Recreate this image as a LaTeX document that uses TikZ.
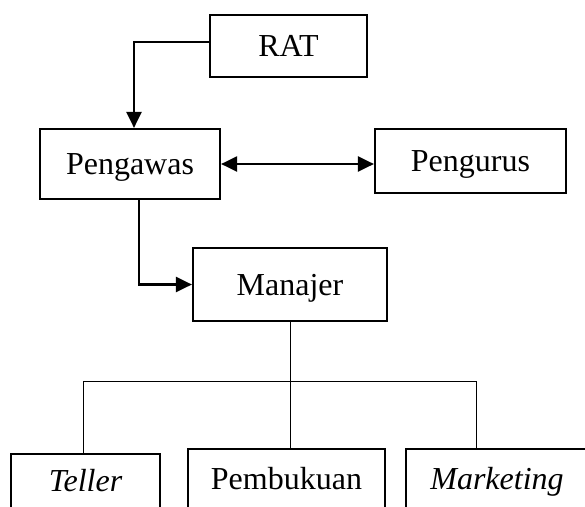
\documentclass[tikz,border=0pt]{standalone}
\usepackage{fontspec}
\setmainfont{Liberation Serif}
\usetikzlibrary{arrows.meta}
\begin{document}
\begin{tikzpicture}[x=1pt,y=-1pt,
  box/.style={draw,line width=2.2pt,inner sep=0pt,font=\fontsize{32}{38}\selectfont,text height=22pt,text depth=1pt},
  arr/.style={line width=2.2pt,-{Triangle[length=16pt,width=15pt]}},
  darr/.style={line width=2.2pt,{Triangle[length=16pt,width=15pt]}-{Triangle[length=16pt,width=15pt]}},
  thinline/.style={line width=1pt}]
\useasboundingbox (0,0) rectangle (585,506);
\clip (0,0) rectangle (585,506);
\node[box,minimum width=157pt,minimum height=62pt] (rat) at (288.5,46) {RAT};
\node[box,minimum width=180pt,minimum height=70pt] (pengawas) at (130,164) {Pengawas};
\node[box,minimum width=191pt,minimum height=64pt] (pengurus) at (470.5,161) {Pengurus};
\node[box,minimum width=194pt,minimum height=73pt] (manajer) at (290,284.5) {Manajer};
\node[box,minimum width=149pt,minimum height=54pt] (teller) at (85.5,481) {\itshape Teller};
\node[box,minimum width=197pt,minimum height=59pt] (pembukuan) at (286.5,478.5) {Pembukuan};
\node[box,minimum width=182pt,minimum height=59pt] (marketing) at (497,478.5) {\itshape Marketing};
\coordinate (ratout) at (rat.west |- 0,42);
\coordinate (pgin) at (134,0);
\coordinate (pgout) at (139,0);
\coordinate (busL) at (83,381);
\coordinate (busM) at (manajer.south |- 0,381);
\coordinate (busR) at (476,381);
\draw[arr] (ratout) -| (pgin |- pengawas.north);
\draw[darr] (pengawas.east) -- (pengawas.east -| pengurus.west);
\draw[arr] (pgout |- pengawas.south) |- (manajer.west);
\draw[thinline] (manajer.south) -- (busM);
\draw[thinline] (busL |- teller.north) -- (busL) -- (busR) -- (busR |- marketing.north);
\draw[thinline] (busM) -- (busM |- pembukuan.north);
\end{tikzpicture}
\end{document}
